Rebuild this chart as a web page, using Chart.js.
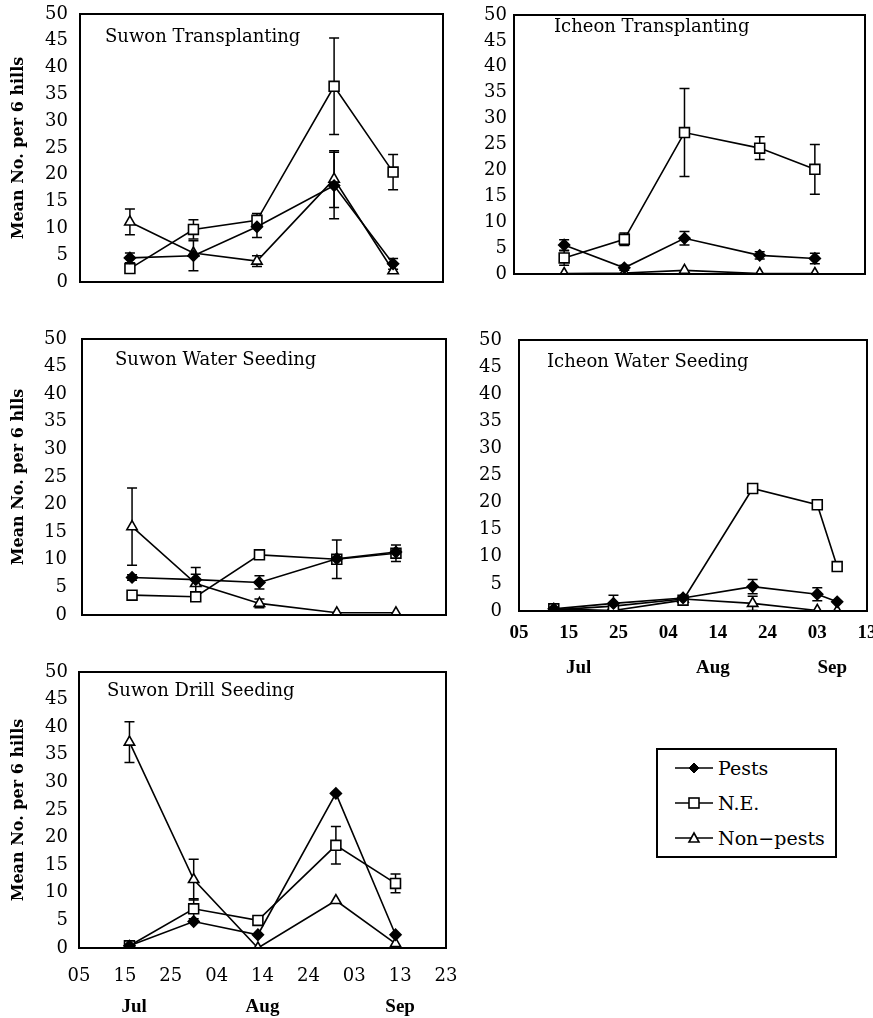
<!DOCTYPE html>
<html>
<head>
<meta charset="utf-8">
<script src="https://cdn.jsdelivr.net/npm/chart.js@4.4.0/dist/chart.umd.min.js"></script>
<style>
  body { margin: 0; background: #fff; width: 873px; height: 1018px; position: relative; overflow: hidden; }
  canvas { position: absolute; }
  #legend {
    position: absolute; left: 656px; top: 748px; width: 177px; height: 106px;
    border: 2px solid #000; font-family: 'DejaVu Serif', serif; font-size: 19px; color: #000;
  }
  #legend .row { position: absolute; left: 17px; height: 22px; display: flex; align-items: center; }
  #legend svg { margin-right: 5px; }
</style>
</head>
<body>
<canvas id="p1"></canvas>
<canvas id="p2"></canvas>
<canvas id="p3"></canvas>
<canvas id="p4"></canvas>
<canvas id="p5"></canvas>
<div id="legend"></div>
<script>
// sampling dates, days counted from 05 Jul
const suwonDays = [11, 25, 39, 56, 69];
const icheonTransDays = [10, 22, 34, 49, 60];
const icheonWaterDays = [7, 19, 33, 47, 60, 64];

const seriesNames = ['Pests', 'N.E.', 'Non\u2212pests'];
const suwonTickLabels = ['05', '15', '25', '04', '14', '24', '03', '13', '23'];
const icheonTickLabels = ['05', '15', '25', '04', '14', '24', '03', '13'];
const monthNames = ['Jul', 'Aug', 'Sep'];
const suwonMonthDays = [12, 40, 70];
const icheonMonthDays = [12, 39, 63];

// Suwon Transplanting
const stPests = [4.5, 4.9, 10.3, 18.0, 3.4];
const stPestsErr = [0.9, 2.8, 2.0, 6.2, 1.0];
const stNE = [2.5, 9.8, 11.5, 36.5, 20.5];
const stNEErr = [0, 1.8, 1.3, 9.0, 3.3];
const stNon = [11.2, 5.4, 3.9, 19.2, 2.1];
const stNonErr = [2.4, 0, 1.0, 5.3, 0];

// Icheon Transplanting
const itPests = [5.6, 1.2, 6.9, 3.6, 3.0];
const itPestsErr = [1.0, 0.5, 1.3, 0.7, 1.0];
const itNE = [3.1, 6.7, 27.3, 24.3, 20.2];
const itNEErr = [1.4, 1.2, 8.5, 2.2, 4.8];
const itNon = [0.1, 0.2, 0.7, 0.1, 0.1];
const itNonErr = [0, 0, 0, 0, 0];

// Suwon Water Seeding
const swPests = [6.8, 6.4, 5.9, 10.2, 11.4];
const swPestsErr = [0.5, 1.0, 1.2, 0, 0];
const swNE = [3.6, 3.3, 10.9, 10.1, 11.2];
const swNEErr = [0.8, 0, 0, 3.5, 1.5];
const swNon = [16.0, 5.7, 2.1, 0.4, 0.4];
const swNonErr = [7.0, 2.9, 0.8, 0, 0];

// Icheon Water Seeding
const iwPests = [0.4, 1.4, 2.4, 4.5, 3.1, 1.7];
const iwPestsErr = [0, 1.5, 0, 1.3, 1.2, 0];
const iwNE = [0.4, 0.1, 2.0, 22.6, 19.6, 8.2];
const iwNEErr = [0, 0, 0, 0.8, 0.8, 0];
const iwNon = [0.2, 0.9, 2.2, 1.4, 0.1, 0];
const iwNonErr = [0, 0, 0, 1.3, 0, 0];

// Suwon Drill Seeding
const sdPests = [0.4, 4.8, 2.4, 28.0, 2.4];
const sdPestsErr = [0, 0, 0, 0, 0];
const sdNE = [0.4, 7.1, 5.0, 18.6, 11.7];
const sdNEErr = [0, 1.8, 0, 3.4, 1.7];
const sdNon = [37.3, 12.4, 0.0, 8.6, 0.8];
const sdNonErr = [3.7, 3.7, 0, 0, 0];

const serif = "'DejaVu Serif', serif";
const boldSerif = "'Liberation Serif', serif";
// fixed insets, bigger than what Chart.js would reserve for edge labels
const PAD_T = 34, PAD_R = 36;

function points(days, vals) {
    return days.map((d, i) => ({ x: d, y: vals[i] }));
}

// draws the plot frame
const framePlugin = {
    id: 'frame',
    afterDraw(chart) {
        const a = chart.chartArea;
        const ctx = chart.ctx;
        ctx.save();
        ctx.strokeStyle = '#000';
        ctx.lineWidth = 2;
        ctx.strokeRect(a.left, a.top, a.right - a.left, a.bottom - a.top);
        ctx.restore();
    }
};

// vertical error bars from each dataset's errors array
const errorBarPlugin = {
    id: 'errorBars',
    beforeDatasetsDraw(chart) {
        const ctx = chart.ctx;
        const xs = chart.scales.x, ys = chart.scales.y;
        ctx.save();
        ctx.strokeStyle = '#000';
        ctx.lineWidth = 1.5;
        chart.data.datasets.forEach(ds => {
            (ds.errors || []).forEach((e, i) => {
                if (!e) return;
                const p = ds.data[i];
                const x = xs.getPixelForValue(p.x);
                const y1 = ys.getPixelForValue(Math.max(0, p.y - e));
                const y2 = ys.getPixelForValue(p.y + e);
                ctx.beginPath();
                ctx.moveTo(x, y1); ctx.lineTo(x, y2);
                ctx.moveTo(x - 5, y1); ctx.lineTo(x + 5, y1);
                ctx.moveTo(x - 5, y2); ctx.lineTo(x + 5, y2);
                ctx.stroke();
            });
        });
        ctx.restore();
    }
};

// panel name inside the plot, and month names under the date axis
const labelPlugin = {
    id: 'panelLabels',
    afterDraw(chart, args, opts) {
        const ctx = chart.ctx;
        const a = chart.chartArea;
        ctx.save();
        ctx.fillStyle = '#000';
        ctx.textBaseline = 'middle';
        ctx.textAlign = 'left';
        ctx.font = '18px ' + serif;
        ctx.fillText(opts.text, a.left + opts.dx, a.top + opts.dy);
        if (opts.months) {
            ctx.textAlign = 'center';
            ctx.font = 'bold 19px ' + boldSerif;
            opts.months.forEach((m, i) => {
                ctx.fillText(m, chart.scales.x.getPixelForValue(opts.monthDays[i]), a.bottom + opts.monthDy);
            });
        }
        ctx.restore();
    }
};

function makePanel(cfg) {
    const yW = cfg.yTitle ? cfg.left : 60;
    const xH = cfg.xAxis ? 72 : 0;
    const canvas = document.getElementById(cfg.id);
    canvas.width = cfg.right - cfg.left + yW + PAD_R;
    canvas.height = cfg.bottom - cfg.top + PAD_T + (cfg.xAxis ? xH : PAD_T);
    canvas.style.left = (cfg.left - yW) + 'px';
    canvas.style.top = (cfg.top - PAD_T) + 'px';

    const datasets = [
        { label: seriesNames[0], data: points(cfg.days, cfg.pests), errors: cfg.pestsErr,
          pointStyle: 'rectRot', pointRadius: 5.5, pointBackgroundColor: '#000' },
        { label: seriesNames[1], data: points(cfg.days, cfg.ne), errors: cfg.neErr,
          pointStyle: 'rect', pointRadius: 7, pointBackgroundColor: '#fff' },
        { label: seriesNames[2], data: points(cfg.days, cfg.non), errors: cfg.nonErr,
          pointStyle: 'triangle', pointRadius: 6, pointBackgroundColor: '#fff' }
    ].map(ds => Object.assign(ds, {
        borderColor: '#000', borderWidth: 1.6, pointBorderColor: '#000',
        pointBorderWidth: 1.6, fill: false, tension: 0
    }));

    new Chart(canvas.getContext('2d'), {
        type: 'line',
        data: { datasets: datasets },
        options: {
            responsive: false,
            animation: false,
            devicePixelRatio: 1,
            layout: { padding: { top: PAD_T, right: PAD_R, bottom: cfg.xAxis ? 0 : PAD_T, left: 0 } },
            plugins: {
                legend: { display: false },
                tooltip: { enabled: false },
                panelLabels: { text: cfg.title, dx: cfg.titleDx, dy: cfg.titleDy,
                    months: cfg.xAxis ? monthNames : null, monthDays: cfg.monthDays, monthDy: cfg.monthDy }
            },
            scales: {
                x: {
                    type: 'linear', min: 0, max: cfg.span,
                    display: !!cfg.xAxis,
                    grid: { display: false, drawTicks: false },
                    border: { display: false },
                    ticks: {
                        stepSize: 10, autoSkip: false, maxRotation: 0,
                        color: '#000', padding: cfg.xPad,
                        font: cfg.xAxis === 'bold'
                            ? { family: boldSerif, size: 19, weight: 'bold' }
                            : { family: serif, size: 18 },
                        callback: v => cfg.tickLabels[Math.round(v / 10)]
                    },
                    afterFit: s => { s.height = xH; }
                },
                y: {
                    min: 0, max: 50,
                    grid: { display: false, drawTicks: false },
                    border: { display: false },
                    ticks: { stepSize: 5, color: '#000', padding: cfg.yPad, font: { family: serif, size: 18 } },
                    title: {
                        display: !!cfg.yTitle, text: cfg.yTitle, color: '#000',
                        font: { family: serif, size: 16, weight: 'bold' },
                        padding: { top: 9, bottom: 0 }
                    },
                    afterFit: s => { s.width = yW; }
                }
            }
        },
        plugins: [framePlugin, errorBarPlugin, labelPlugin]
    });
}

makePanel({ id: 'p1', left: 80, top: 14, right: 443, bottom: 282, span: 80, days: suwonDays,
    pests: stPests, pestsErr: stPestsErr, ne: stNE, neErr: stNEErr, non: stNon, nonErr: stNonErr,
    title: 'Suwon Transplanting', titleDx: 25, titleDy: 23, yTitle: 'Mean No. per 6 hills', yPad: 12,
    tickLabels: suwonTickLabels });

makePanel({ id: 'p2', left: 514, top: 15, right: 865, bottom: 274, span: 70, days: icheonTransDays,
    pests: itPests, pestsErr: itPestsErr, ne: itNE, neErr: itNEErr, non: itNon, nonErr: itNonErr,
    title: 'Icheon Transplanting', titleDx: 40, titleDy: 12, yPad: 7,
    tickLabels: icheonTickLabels });

makePanel({ id: 'p3', left: 82, top: 339, right: 446, bottom: 615, span: 80, days: suwonDays,
    pests: swPests, pestsErr: swPestsErr, ne: swNE, neErr: swNEErr, non: swNon, nonErr: swNonErr,
    title: 'Suwon Water Seeding', titleDx: 33, titleDy: 21, yTitle: 'Mean No. per 6 hlls', yPad: 15,
    tickLabels: suwonTickLabels });

makePanel({ id: 'p4', left: 519, top: 340, right: 867, bottom: 611, span: 70, days: icheonWaterDays,
    pests: iwPests, pestsErr: iwPestsErr, ne: iwNE, neErr: iwNEErr, non: iwNon, nonErr: iwNonErr,
    title: 'Icheon Water Seeding', titleDx: 28, titleDy: 22, yPad: 17,
    xAxis: 'bold', xPad: 11, tickLabels: icheonTickLabels, monthDays: icheonMonthDays, monthDy: 57 });

makePanel({ id: 'p5', left: 79, top: 672, right: 446, bottom: 948, span: 80, days: suwonDays,
    pests: sdPests, pestsErr: sdPestsErr, ne: sdNE, neErr: sdNEErr, non: sdNon, nonErr: sdNonErr,
    title: 'Suwon Drill Seeding', titleDx: 28, titleDy: 19, yTitle: 'Mean No. per 6 hills', yPad: 11,
    xAxis: 'regular', xPad: 18, tickLabels: suwonTickLabels, monthDays: suwonMonthDays, monthDy: 59 });

// legend
const icons = [
    '<polygon points="19,2 24,7 19,12 14,7" fill="#000" stroke="#000" stroke-width="1"/>',
    '<rect x="14" y="2" width="10" height="10" fill="#fff" stroke="#000" stroke-width="1.6"/>',
    '<polygon points="19,2 24,11 14,11" fill="#fff" stroke="#000" stroke-width="1.6"/>'
];
const legend = document.getElementById('legend');
seriesNames.forEach((name, i) => {
    const row = document.createElement('div');
    row.className = 'row';
    row.style.top = (7 + i * 35) + 'px';
    row.innerHTML = '<svg width="38" height="14"><line x1="0" y1="7" x2="38" y2="7" stroke="#000" stroke-width="1.6"/>' +
        icons[i] + '</svg><span>' + name + '</span>';
    legend.appendChild(row);
});
</script>
</body>
</html>
